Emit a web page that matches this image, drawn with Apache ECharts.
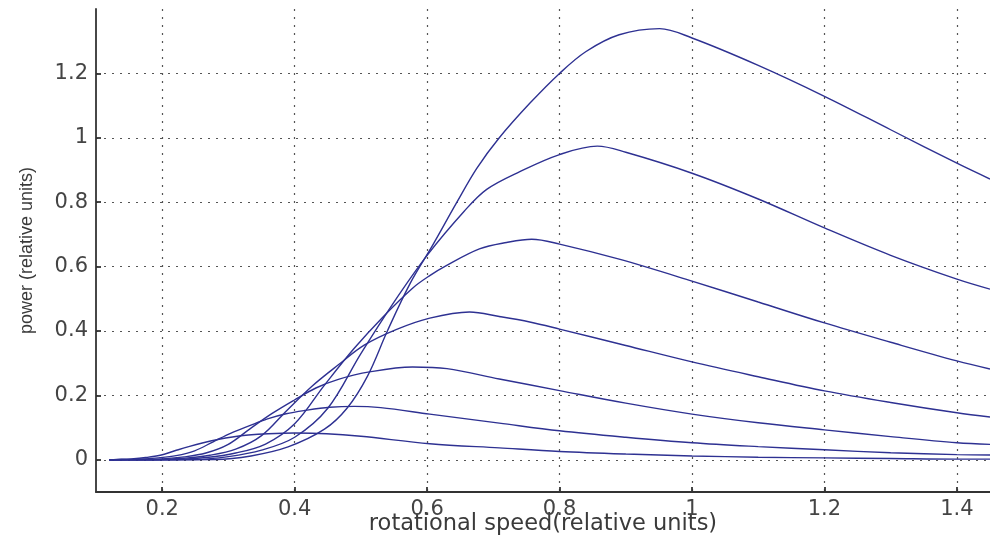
<!DOCTYPE html>
<html>
<head>
<meta charset="utf-8">
<script src="https://cdn.jsdelivr.net/npm/echarts@6/dist/echarts.min.js"></script>
<style>
  html, body { margin: 0; padding: 0; background: #fff; }
  #chart { width: 990px; height: 547px; }
</style>
</head>
<body>
<div id="chart"></div>
<script>
// power curves, one per wind speed, [rotational speed, power] in relative units
var curve1 = [[0.12,0],[0.28,0.001],[0.334,0.012],[0.39,0.04],[0.445,0.095],[0.479,0.16],[0.51,0.26],[0.54,0.40],[0.575,0.55],[0.608,0.665],[0.645,0.80],[0.675,0.905],[0.709,1.0],[0.755,1.107],[0.80,1.20],[0.84,1.268],[0.89,1.32],[0.951,1.339],[1.0,1.31],[1.1,1.225],[1.2,1.129],[1.3,1.025],[1.4,0.921],[1.45,0.872]];
var curve2 = [[0.12,0],[0.25,0.001],[0.30,0.01],[0.35,0.03],[0.40,0.07],[0.45,0.16],[0.50,0.33],[0.55,0.49],[0.60,0.635],[0.656,0.772],[0.69,0.84],[0.74,0.895],[0.80,0.948],[0.857,0.974],[0.9,0.955],[1.0,0.89],[1.1,0.81],[1.2,0.72],[1.3,0.635],[1.4,0.561],[1.45,0.53]];
var curve3 = [[0.12,0],[0.222,0.001],[0.267,0.007],[0.311,0.021],[0.356,0.049],[0.40,0.112],[0.445,0.232],[0.489,0.344],[0.533,0.443],[0.578,0.533],[0.604,0.572],[0.629,0.603],[0.679,0.655],[0.72,0.675],[0.758,0.685],[0.8,0.67],[0.89,0.623],[1.0,0.555],[1.1,0.49],[1.2,0.425],[1.3,0.365],[1.4,0.307],[1.45,0.282]];
var curve4 = [[0.12,0],[0.194,0.001],[0.233,0.005],[0.272,0.014],[0.311,0.033],[0.35,0.075],[0.389,0.155],[0.427,0.23],[0.466,0.295],[0.505,0.356],[0.554,0.405],[0.604,0.44],[0.664,0.459],[0.709,0.445],[0.755,0.428],[0.8,0.406],[0.9,0.355],[1.0,0.304],[1.1,0.258],[1.2,0.214],[1.3,0.178],[1.4,0.146],[1.45,0.133]];
var curve5 = [[0.12,0],[0.166,0.001],[0.20,0.003],[0.233,0.009],[0.266,0.021],[0.299,0.047],[0.333,0.097],[0.366,0.144],[0.399,0.185],[0.432,0.223],[0.466,0.25],[0.513,0.273],[0.578,0.288],[0.63,0.283],[0.709,0.251],[0.8,0.215],[0.9,0.176],[1.0,0.142],[1.1,0.115],[1.2,0.093],[1.3,0.072],[1.4,0.053],[1.45,0.048]];
var curve6 = [[0.12,0],[0.138,0.001],[0.166,0.002],[0.194,0.006],[0.221,0.013],[0.249,0.028],[0.277,0.056],[0.304,0.083],[0.332,0.106],[0.359,0.127],[0.387,0.143],[0.415,0.153],[0.453,0.163],[0.49,0.166],[0.53,0.162],[0.604,0.142],[0.709,0.114],[0.8,0.09],[0.9,0.07],[1.0,0.053],[1.1,0.041],[1.2,0.031],[1.3,0.022],[1.4,0.016],[1.45,0.015]];
var curve7 = [[0.12,0],[0.131,0.001],[0.153,0.003],[0.175,0.007],[0.197,0.014],[0.219,0.028],[0.24,0.041],[0.262,0.053],[0.284,0.063],[0.306,0.071],[0.33,0.077],[0.36,0.081],[0.40,0.083],[0.448,0.081],[0.5,0.073],[0.604,0.05],[0.709,0.037],[0.8,0.026],[0.9,0.018],[1.0,0.012],[1.1,0.008],[1.2,0.006],[1.3,0.004],[1.4,0.002],[1.45,0.002]];

var xTicks = [0.2, 0.4, 0.6, 0.8, 1, 1.2, 1.4];
var yTicks = [0, 0.2, 0.4, 0.6, 0.8, 1, 1.2];

var myChart = echarts.init(document.getElementById('chart'));

var lineColor = '#2e3192';
var curves = [curve1, curve2, curve3, curve4, curve5, curve6, curve7];
var series = curves.map(function (c) {
    return {
        type: 'line',
        data: c,
        showSymbol: false,
        smooth: 0.35,
        lineStyle: { color: lineColor, width: 1.4 },
        silent: true
    };
});

var option = {
    backgroundColor: '#ffffff',
    animation: false,
    grid: { left: 96, right: 0, top: 9, bottom: 55, outerBoundsMode: 'none', containLabel: false },
    xAxis: {
        type: 'value',
        min: 0.1,
        max: 1.45,
        name: 'rotational speed(relative units)',
        nameLocation: 'middle',
        nameGap: 21,
        nameMoveOverlap: false,
        nameTextStyle: { fontFamily: 'DejaVu Sans', fontSize: 22.5, color: '#3a3a3a' },
        axisLine: { show: true, onZero: false, lineStyle: { color: '#333', width: 1.8 } },
        axisTick: { show: true, inside: true, length: 5, customValues: xTicks, lineStyle: { color: '#333', width: 1.8 } },
        axisLabel: { customValues: xTicks, margin: 7, fontFamily: 'DejaVu Sans', fontSize: 21, color: '#444' },
        splitLine: { show: true, lineStyle: { color: '#555', type: [2, 6], width: 1.2 } }
    },
    yAxis: {
        type: 'value',
        min: -0.1,
        max: 1.4,
        name: 'power (relative units)',
        nameLocation: 'middle',
        nameGap: 60,
        nameMoveOverlap: false,
        nameTextStyle: { fontFamily: 'Liberation Sans', fontSize: 18, color: '#3a3a3a' },
        axisLine: { show: true, onZero: false, lineStyle: { color: '#333', width: 1.8 } },
        axisTick: { show: true, inside: true, length: 5, customValues: yTicks, lineStyle: { color: '#333', width: 1.8 } },
        axisLabel: { customValues: yTicks, margin: 8, fontFamily: 'DejaVu Sans', fontSize: 21, color: '#444' },
        splitLine: { show: true, lineStyle: { color: '#555', type: [2, 6], width: 1.2 } }
    },
    series: series
};

myChart.setOption(option);
</script>
</body>
</html>
